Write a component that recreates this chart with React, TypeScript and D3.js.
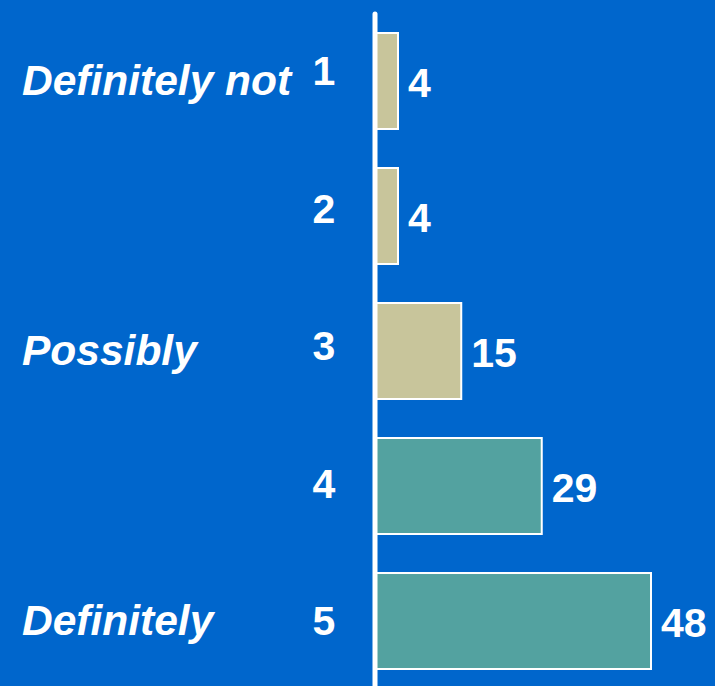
import React from "react";
import * as d3 from "d3";

const categories = ["1", "2", "3", "4", "5"];
const values = [4, 4, 15, 29, 48];
const barColors = ["#c8c59b", "#c8c59b", "#c8c59b", "#53a2a0", "#53a2a0"];
const sideLabels = [
  { cat: "1", text: "Definitely not" },
  { cat: "3", text: "Possibly" },
  { cat: "5", text: "Definitely" },
];

const W = 715;
const H = 686;

export default function App() {
  const x = d3.scaleLinear().domain([0, 48]).range([375, 651]);
  const y = d3
    .scaleBand<string>()
    .domain(categories)
    .range([33, 669])
    .paddingInner(0.289)
    .paddingOuter(0);
  const tickY = d3.scalePoint<string>().domain(categories).range([85, 635]);
  const font = "'Liberation Sans', Arial, sans-serif";

  return (
    <svg
      width={W}
      height={H}
      style={{ position: "absolute", left: 0, top: 0, display: "block" }}
    >
      <rect x={0} y={0} width={W} height={H} fill="#0066cc" />
      {categories.map((c, i) => (
        <rect
          key={c}
          x={x(0)}
          y={y(c)!}
          width={x(values[i]) - x(0)}
          height={y.bandwidth()}
          fill={barColors[i]}
          stroke="#ffffff"
          strokeWidth={2}
        />
      ))}
      <line
        x1={375}
        x2={375}
        y1={14}
        y2={H + 5}
        stroke="#ffffff"
        strokeWidth={5}
        strokeLinecap="round"
      />
      {categories.map((c, i) => (
        <text
          key={"v" + c}
          x={x(values[i]) + 10}
          y={y(c)! + y.bandwidth() / 2 + 16}
          fill="#ffffff"
          fontFamily={font}
          fontWeight="bold"
          fontSize={41}
        >
          {values[i]}
        </text>
      ))}
      {categories.map((c) => (
        <text
          key={"t" + c}
          x={324}
          y={tickY(c)!}
          fill="#ffffff"
          fontFamily={font}
          fontWeight="bold"
          fontSize={41}
          textAnchor="middle"
        >
          {c}
        </text>
      ))}
      {sideLabels.map((s) => (
        <text
          key={s.text}
          x={22}
          y={y(s.cat)! + y.bandwidth() / 2 + 14}
          fill="#ffffff"
          fontFamily={font}
          fontWeight="bold"
          fontStyle="italic"
          fontSize={42.5}
        >
          {s.text}
        </text>
      ))}
    </svg>
  );
}
